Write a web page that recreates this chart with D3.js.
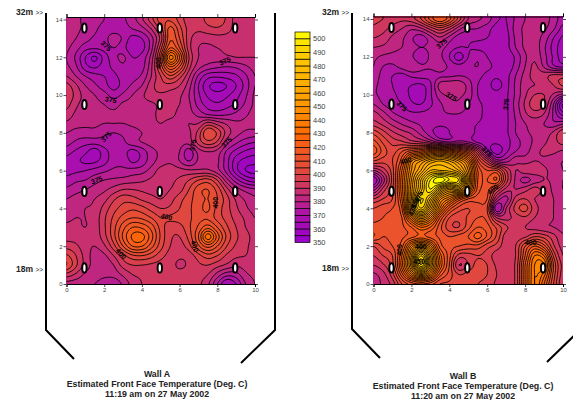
<!DOCTYPE html>
<html>
<head>
<meta charset="utf-8">
<script src="https://cdn.jsdelivr.net/npm/d3@7"></script>
<style>
  html, body { margin: 0; background: #fff; }
  svg { display: block; }
  text { font-family: "Liberation Sans", Arial, sans-serif; }
</style>
</head>
<body>
<svg id="chart" width="573" height="400"></svg>
<script>
// Estimated face temperature. Rows run y=14 down to y=0,
// columns x=0 to x=10, both in 0.5 steps.
const wallA = [
  [383,381,379,377,375,371,374,378,384,393,403,404,398,392,392,397,399,394,388,386,385],
  [384,381,379,376,373,372,373,375,378,385,397,412,402,393,391,393,394,392,388,386,385],
  [383,380,377,374,373,378,374,368,370,378,392,414,405,392,387,387,388,388,387,386,385],
  [381,377,372,371,372,375,372,366,368,378,398,420,410,392,385,384,385,386,386,386,385],
  [380,374,365,359,367,373,376,370,372,382,405,437,420,395,385,383,383,384,385,385,385],
  [381,376,367,364,368,371,374,372,373,384,402,420,410,392,382,378,376,375,376,379,382],
  [385,380,375,372,370,369,372,373,376,385,395,404,397,386,374,367,366,367,369,374,380],
  [392,386,380,376,372,368,372,376,380,388,393,393,390,382,370,361,358,360,365,372,380],
  [395,388,383,380,377,373,376,380,384,388,389,388,386,380,371,364,362,364,368,374,381],
  [392,386,383,381,380,378,381,382,383,384,386,386,385,381,373,368,366,368,371,376,381],
  [388,384,382,381,381,381,381,382,383,384,386,386,384,382,378,374,373,374,376,379,382],
  [384,382,381,381,380,380,380,381,382,384,385,384,384,385,385,392,388,384,381,381,382],
  [380,378,378,378,376,375,376,378,380,382,384,384,383,384,392,405,399,388,382,379,378],
  [377,374,372,372,373,373,374,378,380,382,383,383,382,382,392,398,394,382,376,372,370],
  [372,369,366,362,368,372,372,368,372,378,381,382,380,372,382,385,383,374,368,364,362],
  [368,366,364,364,368,373,374,369,372,378,382,384,380,375,381,383,381,372,362,358,357],
  [368,369,370,372,374,376,376,377,378,382,387,388,387,386,386,386,382,373,362,355,353],
  [372,374,375,378,380,381,382,383,384,386,388,389,391,395,400,402,395,382,372,365,362],
  [376,378,380,382,384,387,390,390,389,388,388,390,393,400,408,410,403,392,383,378,376],
  [380,382,383,385,388,394,398,397,394,392,390,393,398,403,408,410,405,397,389,384,381],
  [382,383,385,386,392,398,402,404,402,398,395,396,400,404,408,411,403,397,391,386,383],
  [384,385,385,387,394,401,407,410,409,405,400,401,402,404,408,409,403,398,393,389,385],
  [386,386,385,387,394,403,413,420,419,413,403,397,398,404,411,418,410,401,395,390,387],
  [388,388,387,387,393,403,416,426,427,417,404,396,395,402,415,433,418,404,396,392,388],
  [393,391,387,385,389,398,410,420,420,412,402,395,393,398,409,417,410,400,394,391,388],
  [401,395,388,383,384,390,398,404,405,402,397,393,391,392,398,403,400,394,391,390,388],
  [405,396,388,383,382,385,392,395,395,394,393,392,389,391,394,395,392,389,386,387,387],
  [393,389,384,382,381,382,386,390,391,391,392,392,392,392,392,390,383,377,378,384,386],
  [383,382,381,380,378,376,381,387,390,391,392,392,392,392,391,386,375,365,370,380,385]
];
const wallB = [
  [396,395,393,391,393,400,412,420,412,398,385,381,378,371,370,376,380,382,382,378,372],
  [394,392,388,385,381,384,392,398,392,382,376,375,372,368,369,377,381,382,381,376,368],
  [390,388,384,381,376,372,378,384,378,372,371,371,370,368,368,376,381,382,378,370,364],
  [385,384,382,380,377,375,376,377,373,370,370,369,368,366,368,375,381,383,376,368,362],
  [381,379,378,377,376,370,376,376,370,362,370,374,370,366,366,371,379,384,377,369,362],
  [380,375,374,377,380,376,376,378,374,372,374,375,372,368,366,372,380,386,379,371,368],
  [378,373,370,368,371,372,372,374,374,375,374,372,368,366,368,375,382,387,388,392,392],
  [376,373,370,367,365,364,369,382,384,384,378,370,367,363,368,376,383,385,386,390,396],
  [376,373,371,368,364,362,369,378,381,381,378,370,368,367,369,376,384,390,390,384,378],
  [380,375,372,370,366,365,369,374,378,379,375,371,369,368,369,377,386,393,390,375,354],
  [387,382,376,373,371,371,372,374,375,375,373,371,369,368,369,376,384,388,385,374,362],
  [392,388,383,379,376,374,373,372,372,371,371,370,369,368,369,375,380,382,380,376,378],
  [403,397,391,387,384,378,372,367,370,372,372,369,367,367,369,375,379,381,382,386,394],
  [412,404,398,396,392,390,385,378,375,377,375,369,366,366,368,373,377,381,384,388,392],
  [418,408,403,410,418,422,430,432,428,420,412,395,372,362,369,375,378,383,386,386,384],
  [405,402,405,418,445,455,465,470,465,455,440,410,395,378,378,384,383,385,384,382,380],
  [385,392,403,425,450,465,480,480,478,470,450,420,410,410,395,385,388,388,386,383,380],
  [365,382,402,428,455,480,500,510,500,495,455,420,415,420,398,384,378,382,385,384,380],
  [378,392,404,428,458,482,500,480,465,470,445,418,412,400,388,385,388,392,388,384,380],
  [395,400,405,425,460,495,480,452,440,425,415,412,410,385,378,392,395,390,388,385,382],
  [405,408,410,420,465,490,468,440,418,408,405,408,405,370,385,397,402,392,388,385,382],
  [408,410,412,415,440,458,445,420,405,402,406,410,408,390,388,392,394,390,388,385,383],
  [412,412,413,414,420,430,425,412,402,400,408,415,412,404,396,392,390,388,386,385,383],
  [415,410,412,414,418,422,418,414,410,412,415,422,414,404,392,392,394,400,398,392,386],
  [400,406,410,418,442,455,442,418,412,410,408,408,402,398,392,395,410,420,412,396,388],
  [395,400,405,425,455,490,460,428,412,398,398,400,398,392,392,395,415,435,430,404,390],
  [390,394,403,428,458,495,462,430,410,390,396,402,400,394,392,396,420,440,440,410,393],
  [384,388,398,418,440,455,442,418,408,400,402,402,400,395,392,396,420,440,432,408,392],
  [383,386,392,405,412,415,412,405,404,402,401,400,398,394,392,396,420,440,425,405,390]
];

// colour ramp stops of the 5 degree bands
const rampTemps = [350, 370, 380, 390, 400, 410, 420, 430, 450, 470, 490, 505];
const rampColors = ['#9900cc', '#aa11aa', '#bb2288', '#cc3366', '#dd4444', '#e85030', '#f55a1e', '#ff6a00', '#ff9400', '#ffb000', '#ffcc00', '#ffff00'];
const legendTicks = d3.range(350, 501, 10);

// sensor plugs, same layout on both walls
const plugX = [0.95, 4.95, 8.95];
const plugY = [0.85, 4.9, 9.5, 13.55];

const labelsA = [
  [2.1, 12.6, 45, '375'], [2.35, 9.75, 10, '375'], [2.1, 7.8, -45, '375'], [6.7, 7.35, -80, '375'],
  [8.5, 7.5, -45, '375'], [8.4, 11.8, -25, '375'], [1.6, 5.5, -20, '375'], [5.3, 3.55, 15, '400'],
  [2.9, 1.6, 45, '400'], [6.8, 2, 70, '400'], [7.9, 4.3, -90, '400'], [4.9, 11.7, -90, '400']
];
const labelsB = [
  [3.6, 12.7, -40, '375'], [4.1, 9.9, 30, '375'], [1.5, 9.4, 45, '375'], [7, 9.5, -85, '375'],
  [1.7, 6.5, -15, '400'], [6, 7, 45, '375'], [6.3, 5, -40, '400'], [1.4, 1.8, -90, '400'],
  [8.3, 2.2, 0, '400'], [2.5, 2, 0, '400'], [2.2, 4.3, -60, '450'], [2.05, 3.9, -70, '425'],
  [2.4, 4.6, -70, '475'], [2.4, 1.2, 0, '450']
];

const titlesA = ['Wall A', 'Estimated Front Face Temperature (Deg. C)', '11:19 am on 27 May 2002'];
const titlesB = ['Wall B', 'Estimated Front Face Temperature (Deg. C)', '11:20 am on 27 May 2002'];

const svg = d3.select('#chart');
const color = d3.scaleLinear().domain(rampTemps).range(rampColors).clamp(true);
const thresholds = d3.range(350, 506, 5);

// Catmull-Rom resample so the lines come out round, with a clamped margin
// outside the plot that the clip hides (d3.contours closes rings at the edge).
const STEP = 4, PAD = 3;
function resample(rows) {
  const nr = rows.length, nc = rows[0].length;
  const at = (r, c) => rows[Math.max(0, Math.min(nr - 1, r))][Math.max(0, Math.min(nc - 1, c))];
  const cr = (a, b, c, d, t) => 0.5 * (2 * b + (c - a) * t + (2 * a - 5 * b + 4 * c - d) * t * t + (3 * b - a - 3 * c + d) * t * t * t);
  const w = (nc - 1) * STEP + 1 + 2 * PAD, h = (nr - 1) * STEP + 1 + 2 * PAD;
  const out = new Array(w * h);
  for (let j = 0; j < h; j++) {
    const v = Math.max(0, Math.min(nr - 1, (j - PAD) / STEP));
    const r = Math.min(nr - 2, Math.floor(v)), tv = v - r;
    for (let i = 0; i < w; i++) {
      const u = Math.max(0, Math.min(nc - 1, (i - PAD) / STEP));
      const c = Math.min(nc - 2, Math.floor(u)), tu = u - c;
      const col = [-1, 0, 1, 2].map(k => cr(at(r + k, c - 1), at(r + k, c), at(r + k, c + 1), at(r + k, c + 2), tu));
      out[j * w + i] = cr(col[0], col[1], col[2], col[3], tv);
    }
  }
  return { values: out, w, h };
}

function drawPanel(id, rows, labels, titles, o) {
  const x = d3.scaleLinear().domain([0, 10]).range([o.left, o.right]);
  const y = d3.scaleLinear().domain([0, 14]).range([o.zero, o.top14]);
  const yTop = y(14.13);
  const g = svg.append('g');

  svg.append('clipPath').attr('id', 'clip' + id).append('rect')
    .attr('x', o.left).attr('y', yTop).attr('width', o.right - o.left).attr('height', o.zero - yTop);

  const grid = resample(rows);
  const contours = d3.contours().size([grid.w, grid.h]).thresholds(thresholds)(grid.values);
  const toPlot = d3.geoTransform({
    point(i, j) {
      this.stream.point(x((i - PAD - 0.5) / STEP * 0.5), y(14 - (j - PAD - 0.5) / STEP * 0.5));
    }
  });
  const path = d3.geoPath(toPlot);

  const field = g.append('g').attr('clip-path', `url(#clip${id})`);
  field.append('rect').attr('x', o.left).attr('y', yTop).attr('width', o.right - o.left).attr('height', o.zero - yTop)
    .attr('fill', color(350));
  field.selectAll('path').data(contours).join('path')
    .attr('d', path)
    .attr('fill', d => color(d.value + 2.5))
    .attr('stroke', '#000').attr('stroke-width', 0.85);

  // frame ticks on all four sides, labels on left and bottom only
  const styleAxis = sel => {
    sel.select('.domain').attr('stroke', '#000').attr('stroke-width', 1);
    sel.selectAll('line').attr('stroke', '#000').attr('stroke-width', 0.7);
    sel.selectAll('text').attr('font-size', 6).attr('fill', '#444');
  };
  g.append('g').attr('transform', `translate(0,${o.zero})`)
    .call(d3.axisBottom(x).tickValues(d3.range(0, 11, 2)).tickSize(3).tickPadding(1)).call(styleAxis);
  g.append('g').attr('transform', `translate(0,${yTop})`)
    .call(d3.axisTop(x).tickValues(d3.range(0, 11, 2)).tickSize(3).tickFormat('')).call(styleAxis);
  g.append('g').attr('transform', `translate(${o.left},0)`)
    .call(d3.axisLeft(y).tickValues(d3.range(0, 15, 2)).tickSize(3).tickPadding(1).tickSizeOuter(0)).call(styleAxis)
    .select('.domain').attr('stroke', 'none');
  g.append('g').attr('transform', `translate(${o.right},0)`)
    .call(d3.axisRight(y).tickValues(d3.range(0, 15, 2)).tickSize(3).tickFormat('').tickSizeOuter(0)).call(styleAxis)
    .select('.domain').attr('stroke', 'none');

  // plugs
  const plugs = plugY.flatMap(py => plugX.map(px => [px, py]));
  g.selectAll('ellipse.plug').data(plugs).join('ellipse').attr('class', 'plug')
    .attr('cx', d => x(d[0])).attr('cy', d => y(d[1]))
    .attr('rx', 2.2).attr('ry', 4.6)
    .attr('fill', '#fff').attr('stroke', '#000').attr('stroke-width', 2);

  // contour labels
  g.selectAll('text.clabel').data(labels).join('text').attr('class', 'clabel')
    .attr('transform', d => `translate(${x(d[0])},${y(d[1])}) rotate(${d[2]})`)
    .attr('text-anchor', 'middle').attr('dy', '0.35em')
    .attr('font-size', 7).attr('font-weight', 'bold').attr('fill', '#000')
    .text(d => d[3]);

  // wall outline
  g.append('path').attr('fill', 'none').attr('stroke', '#000').attr('stroke-width', 2)
    .attr('d', d3.line()([[o.wallL, 13], [o.wallL, o.wallBot], [o.wallL + 28, o.wallBot + 29]]));
  g.append('path').attr('fill', 'none').attr('stroke', '#000').attr('stroke-width', 2)
    .attr('d', d3.line()([[o.wallR, 13], [o.wallR, o.wallBot], [o.wallR - 34, o.wallBot + 33]]));

  // height marks
  [[o.mark32, '32m'], [o.mark18, '18m']].forEach(([my, t]) => {
    const m = g.append('text').attr('x', o.wallL - 3).attr('y', my).attr('text-anchor', 'end')
      .attr('font-size', 8.5).attr('font-weight', 'bold').attr('fill', '#222');
    m.append('tspan').text(t + ' ');
    m.append('tspan').attr('font-size', 6.5).attr('font-weight', 'normal').text('>>');
  });

  g.selectAll('text.title').data(titles).join('text').attr('class', 'title')
    .attr('x', o.titleX).attr('y', (d, i) => o.titleY + i * 10.2)
    .attr('text-anchor', 'middle').attr('font-size', 8.8).attr('font-weight', 'bold').attr('fill', '#222')
    .text(d => d);
}

drawPanel('A', wallA, labelsA, titlesA, {
  left: 66.5, right: 255, zero: 284, top14: 19.5, wallL: 46, wallR: 275, wallBot: 330,
  mark32: 15, mark18: 272, titleX: 157, titleY: 377
});
drawPanel('B', wallB, labelsB, titlesB, {
  left: 373.5, right: 563, zero: 284, top14: 19, wallL: 352, wallR: 581, wallBot: 329,
  mark32: 15, mark18: 271, titleX: 463, titleY: 378.5
});

// colour key
const legendY = d3.scaleLinear().domain([350, 505]).range([242.5, 32]);
const key = svg.append('g');
key.selectAll('rect').data(thresholds.slice(0, -1)).join('rect')
  .attr('x', 295).attr('width', 15)
  .attr('y', d => legendY(d + 5)).attr('height', d => legendY(d) - legendY(d + 5))
  .attr('fill', d => color(d + 2.5)).attr('stroke', '#000').attr('stroke-width', 0.7);
key.selectAll('text').data(legendTicks).join('text')
  .attr('x', 313).attr('y', d => legendY(d)).attr('dy', '0.35em')
  .attr('font-size', 7.5).attr('fill', '#444').text(d => d);
</script>
</body>
</html>
